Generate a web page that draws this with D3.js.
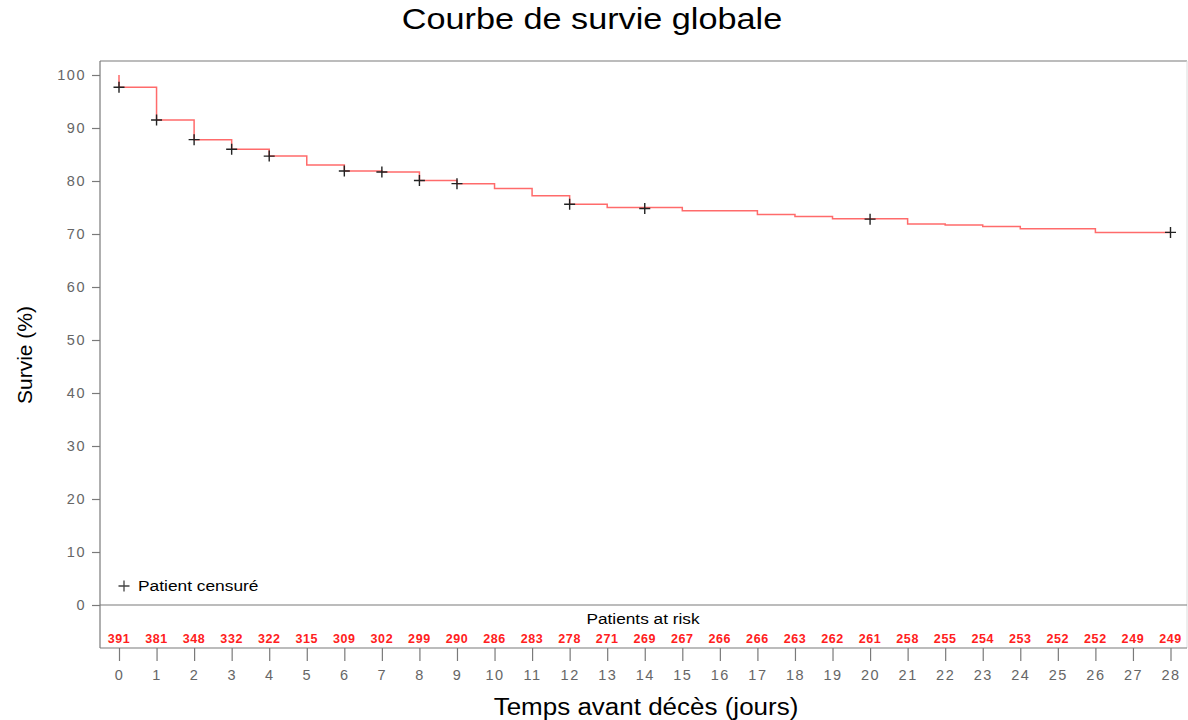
<!DOCTYPE html>
<html>
<head>
<meta charset="utf-8">
<script src="https://cdn.jsdelivr.net/npm/d3@7"></script>
<style>
  html, body { margin: 0; padding: 0; background: #fff; }
  svg { display: block; }
</style>
</head>
<body>
<svg id="chart" width="1188" height="720"></svg>
<script>
// Kaplan-Meier estimate: survival level (%) reached at each event day
const stepDays   = [0, 1, 2, 3, 4, 5, 6, 7, 8, 9, 10, 11, 12, 13, 15, 17, 18, 19, 21, 22, 23, 24, 26];
const stepLevels = [97.7, 91.5, 87.8, 86.0, 84.7, 83.0, 81.9, 81.7, 80.1, 79.5, 78.6, 77.2, 75.6, 75.0, 74.4, 73.7, 73.3, 72.9, 71.9, 71.7, 71.4, 71.0, 70.3];
const endDay = 28;

// Censored patients (day, survival level)
const censorDays   = [0, 1, 2, 3, 4, 6, 7, 8, 9, 12, 14, 20, 28];
const censorLevels = [97.7, 91.5, 87.8, 86.0, 84.7, 81.9, 81.7, 80.1, 79.5, 75.6, 74.8, 72.8, 70.3];

// Number at risk per day
const riskDays  = d3.range(0, 29);
const atRisk    = [391, 381, 348, 332, 322, 315, 309, 302, 299, 290, 286, 283, 278, 271, 269, 267, 266, 266, 263, 262, 261, 258, 255, 254, 253, 252, 252, 249, 249];

const yTicks = d3.range(0, 101, 10);
const xTicks = d3.range(0, 29, 1);

const svg = d3.select("#chart");
const x = d3.scaleLinear().domain([0, 28]).range([119, 1170.5]);
const y = d3.scaleLinear().domain([0, 100]).range([605, 75]);

const frame = { left: 100, right: 1187, top: 61, bottom: 648 };
const axisGrey = "#7a7a7a";
const font = "'Liberation Sans', Arial, sans-serif";

// Text drawn with a slight horizontal stretch
function wideText(cx, cy, size, sx, str, anchor = "middle", rotate = 0) {
  return svg.append("text")
    .attr("transform", `translate(${cx},${cy}) rotate(${rotate}) scale(${sx},1)`)
    .attr("text-anchor", anchor)
    .attr("font-family", font)
    .attr("font-size", size)
    .attr("fill", "#000")
    .text(str);
}

// Title
wideText(592, 29, 29, 1.18, "Courbe de survie globale");

// Frame
svg.append("line").attr("x1", frame.left).attr("x2", frame.right).attr("y1", frame.top).attr("y2", frame.top)
  .attr("stroke", axisGrey).attr("stroke-width", 1.2);
svg.append("line").attr("x1", frame.right).attr("x2", frame.right).attr("y1", frame.top).attr("y2", frame.bottom)
  .attr("stroke", "#dcdcdc").attr("stroke-width", 1);
svg.append("line").attr("x1", frame.left).attr("x2", frame.left).attr("y1", frame.top).attr("y2", frame.bottom)
  .attr("stroke", axisGrey).attr("stroke-width", 1.2);
svg.append("line").attr("x1", frame.left).attr("x2", frame.right).attr("y1", frame.bottom).attr("y2", frame.bottom)
  .attr("stroke", axisGrey).attr("stroke-width", 1.2);
// Baseline at 0 %
svg.append("line").attr("x1", frame.left).attr("x2", frame.right).attr("y1", y(0)).attr("y2", y(0))
  .attr("stroke", axisGrey).attr("stroke-width", 1.2);

// Y axis
const yAxis = d3.axisLeft(y).tickValues(yTicks).tickSize(8).tickPadding(6);
const gy = svg.append("g").attr("transform", `translate(${frame.left},0)`).call(yAxis);
gy.select(".domain").remove();
gy.selectAll(".tick line").attr("stroke", axisGrey).attr("stroke-width", 1.2);
gy.selectAll(".tick text")
  .attr("font-family", font).attr("font-size", 14.5)
  .attr("letter-spacing", "1.5px").attr("fill", "#666");

wideText(32, 355, 21, 1.0, "Survie (%)", "middle", -90);

// X axis
const xAxis = d3.axisBottom(x).tickValues(xTicks).tickSize(13).tickPadding(9).tickFormat(d3.format("d"));
const gx = svg.append("g").attr("transform", `translate(0,${frame.bottom})`).call(xAxis);
gx.select(".domain").remove();
gx.selectAll(".tick line").attr("stroke", axisGrey).attr("stroke-width", 1.2);
gx.selectAll(".tick text")
  .attr("font-family", font).attr("font-size", 14.5)
  .attr("letter-spacing", "1.5px").attr("fill", "#666");

wideText(646, 715, 23, 1.13, "Temps avant décès (jours)");

// Patients at risk
wideText(643, 624, 15, 1.15, "Patients at risk");

svg.append("g").selectAll("text")
  .data(riskDays)
  .join("text")
  .attr("x", d => x(d))
  .attr("y", 643)
  .attr("text-anchor", "middle")
  .attr("font-family", font)
  .attr("font-size", 12.5)
  .attr("font-weight", "bold")
  .attr("letter-spacing", "0.6px")
  .attr("fill", "#ff2020")
  .text((d, i) => atRisk[i]);

// Survival step curve
const curvePts = [[0, 100]];
stepDays.forEach((d, i) => curvePts.push([d, stepLevels[i]]));
curvePts.push([endDay, stepLevels[stepLevels.length - 1]]);
const line = d3.line().x(d => x(d[0])).y(d => y(d[1])).curve(d3.curveStepAfter);
svg.append("path")
  .datum(curvePts)
  .attr("d", line)
  .attr("fill", "none")
  .attr("stroke", "#ff6b6b")
  .attr("stroke-width", 1.5);

// Censor marks
const plus = s => `M${-s},0H${s}M0,${-s}V${s}`;
svg.append("g").selectAll("path")
  .data(censorDays)
  .join("path")
  .attr("transform", (d, i) => `translate(${x(d)},${y(censorLevels[i])})`)
  .attr("d", plus(5.5))
  .attr("stroke", "#222")
  .attr("stroke-width", 1.4)
  .attr("fill", "none");

// Legend
svg.append("path")
  .attr("transform", "translate(124,586)")
  .attr("d", plus(5.5))
  .attr("stroke", "#444").attr("stroke-width", 1.3).attr("fill", "none");
wideText(138, 591, 15.5, 1.12, "Patient censuré", "start");
</script>
</body>
</html>
